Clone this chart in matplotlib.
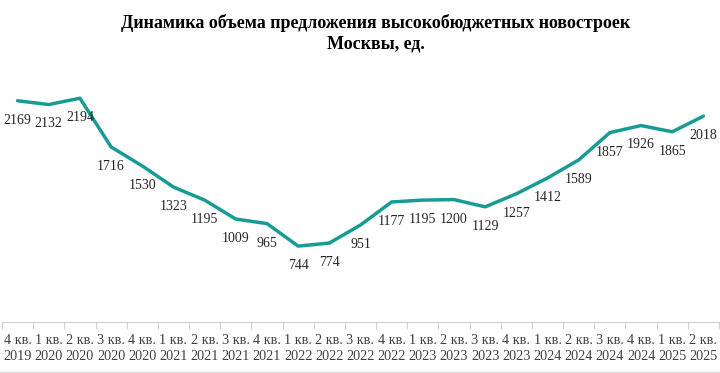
import matplotlib
matplotlib.use("Agg")
import matplotlib.pyplot as plt
from matplotlib.lines import Line2D

quarters = ["4 кв.", "1 кв.", "2 кв.", "3 кв.", "4 кв.", "1 кв.", "2 кв.", "3 кв.", "4 кв.",
            "1 кв.", "2 кв.", "3 кв.", "4 кв.", "1 кв.", "2 кв.", "3 кв.", "4 кв.",
            "1 кв.", "2 кв.", "3 кв.", "4 кв.", "1 кв.", "2 кв."]
years = ["2019", "2020", "2020", "2020", "2020", "2021", "2021", "2021", "2021",
         "2022", "2022", "2022", "2022", "2023", "2023", "2023", "2023",
         "2024", "2024", "2024", "2024", "2025", "2025"]
values = [2169, 2132, 2194, 1716, 1530, 1323, 1195, 1009, 965, 744, 774, 951,
          1177, 1195, 1200, 1129, 1257, 1412, 1589, 1857, 1926, 1865, 2018]

title = "Динамика объема предложения высокобюджетных новостроек\nМосквы, ед."

plt.rcParams['font.family'] = ['Liberation Serif', 'DejaVu Serif']

fig = plt.figure(figsize=(7.2, 3.73), dpi=100)
W, H = 720, 373
left, right = 2 / W, 719 / W
bottom, top = 1 - 322 / H, 1 - 67 / H
ax = fig.add_axes([left, bottom, right - left, top - bottom])

x = list(range(len(values)))
color = "#189B95"
ax.plot(x, values, color=color, lw=2.5, solid_capstyle="round", solid_joinstyle="round")
for xi, v in zip(x, values):
    ax.annotate(str(v), (xi, v), xytext=(0, -14), textcoords="offset points",
                ha="center", va="center", fontsize=10, color="#262626")

ax.set_xlim(-0.5, len(values) - 0.5)
ax.set_ylim(0, 2500)
ax.set_yticks([])
ax.set_xticks([i - 0.5 for i in range(len(values) + 1)])
ax.set_xticklabels([])
ax.set_xticks(x, minor=True)
ax.set_xticklabels([f"{q}\n{y}" for q, y in zip(quarters, years)], minor=True,
                   fontsize=10.3, color="#404040", linespacing=1.2)
ax.tick_params(axis="x", which="major", length=5, color="#D0D0D0", width=0.8)
ax.tick_params(axis="x", which="minor", length=0, pad=9)
for s in ["top", "right", "left"]:
    ax.spines[s].set_visible(False)
ax.spines["bottom"].set_color("#D0D0D0")
ax.spines["bottom"].set_linewidth(0.8)

fig.text(0.522, 1 - 33 / H, title, ha="center", va="center", fontsize=13,
         fontweight="bold", color="#000000", linespacing=1.25)

fig.add_artist(Line2D([0, 1], [1.5 / H, 1.5 / H], color="#D9D9D9", lw=1,
                      transform=fig.transFigure))

fig.savefig("out.png", dpi=100)
